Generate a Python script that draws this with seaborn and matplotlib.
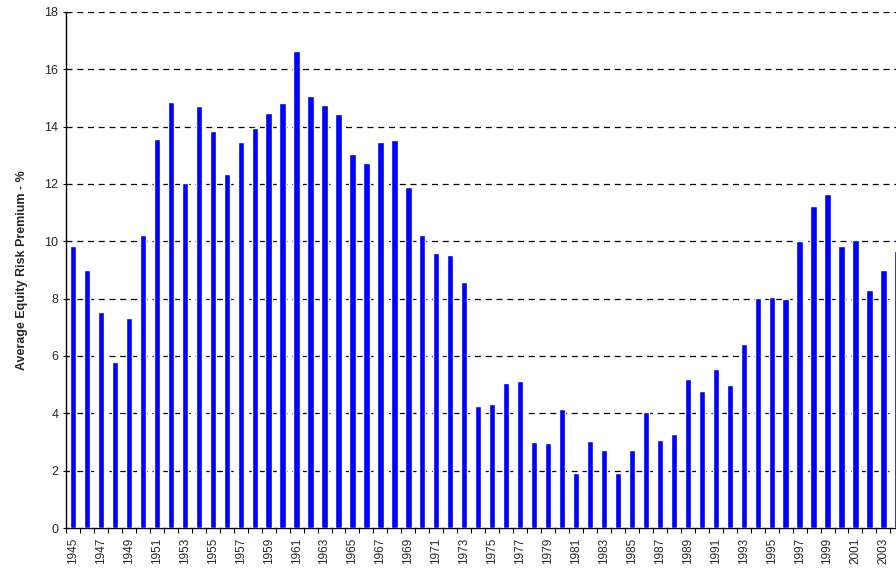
import numpy as np
import pandas as pd
import seaborn as sns
import matplotlib.pyplot as plt
from matplotlib.ticker import FixedLocator

years = list(range(1945, 2005))
premium = [9.84, 9.00, 7.54, 5.79, 7.33, 10.23, 13.57, 14.87, 12.04, 14.72,
           13.86, 12.36, 13.45, 13.95, 14.46, 14.83, 16.65, 15.07, 14.76, 14.45,
           13.05, 12.74, 13.47, 13.53, 11.90, 10.23, 9.59, 9.52, 8.58, 4.25,
           4.33, 5.06, 5.13, 2.99, 2.97, 4.15, 1.91, 3.03, 2.72, 1.91,
           2.72, 4.05, 3.06, 3.28, 5.19, 4.78, 5.54, 4.99, 6.42, 8.03,
           8.06, 7.99, 10.01, 11.24, 11.66, 9.84, 10.05, 8.31, 9.00, 9.66]
y_ticks = list(range(0, 19, 2))

df = pd.DataFrame({'Year': [str(y) for y in years], 'Premium': premium})

sns.set_style('white')
plt.rcParams['font.family'] = ['Liberation Sans', 'DejaVu Sans']

fig = plt.figure(figsize=(8.96, 5.71), dpi=100)
ax = fig.add_axes([0.0737, 0.0753, 0.9263, 0.9037])

sns.barplot(x='Year', y='Premium', data=df, color='#0000FF', saturation=1,
            width=0.45, ax=ax, zorder=3)

ax.set_ylim(0, 18)
ax.set_xlim(-0.5, 58.9)
ax.set_yticks(y_ticks)
ax.set_yticklabels([str(t) for t in y_ticks], fontsize=9)

# labels every other year, tick marks between categories
ax.set_xticks(range(0, len(years), 2))
ax.set_xticklabels([str(y) for y in years[::2]], rotation=90, fontsize=8.5)
ax.xaxis.set_minor_locator(FixedLocator(np.arange(-0.5, len(years), 1)))
ax.tick_params(axis='x', which='major', length=0, pad=7)
ax.tick_params(axis='x', which='minor', length=3.5, width=0.8, direction='out', color='black', bottom=True)
ax.tick_params(axis='y', length=5, width=0.8, direction='inout', color='black', left=True, pad=3)

ax.set_axisbelow(True)
for t in y_ticks[1:]:
    ax.axhline(t, color='black', lw=0.9, ls=(0, (4.8, 3.8)), zorder=1)

for s in ['top', 'right']:
    ax.spines[s].set_visible(False)
ax.spines['left'].set_color('black')
ax.spines['left'].set_linewidth(1.0)
ax.spines['bottom'].set_color('black')
ax.spines['bottom'].set_linewidth(1.0)

ax.set_xlabel('')
ax.set_ylabel('Average Equity Risk Premium - %', fontsize=9, fontweight='bold', labelpad=12)

fig.savefig('out.png', dpi=100)
